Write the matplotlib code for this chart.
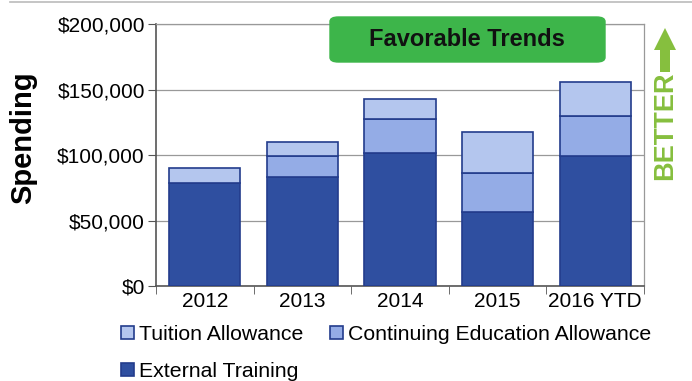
import matplotlib
matplotlib.use("Agg")
import matplotlib.pyplot as plt
import numpy as np
from matplotlib.patches import FancyBboxPatch, Polygon
from matplotlib.lines import Line2D
from matplotlib.ticker import FuncFormatter

plt.rcParams['font.family'] = ['Liberation Sans', 'DejaVu Sans']

years = ["2012", "2013", "2014", "2015", "2016 YTD"]
external = [79000, 83000, 101500, 56500, 99500]
continuing = [0, 16500, 26000, 29500, 30500]
tuition = [11000, 10500, 15000, 31500, 26000]

c_ext = "#2F4FA0"
c_ce = "#94ACE6"
c_tu = "#B4C6EE"
edge = "#233C8C"

fig = plt.figure(figsize=(6.92, 3.81), dpi=100)
ax = fig.add_axes([0.2254, 0.2493, 0.7052, 0.6877])

x = np.arange(len(years))
w = 0.73
ext_b = np.array(external)
ce_b = np.array(continuing)
tu_b = np.array(tuition)
b1 = ax.bar(x, ext_b, w, color=c_ext, edgecolor=edge, linewidth=1.2, zorder=3, label="External Training")
b2 = ax.bar(x, ce_b, w, bottom=ext_b, color=c_ce, edgecolor=edge, linewidth=1.2, zorder=3,
            label="Continuing Education Allowance")
b3 = ax.bar(x, tu_b, w, bottom=ext_b + ce_b, color=c_tu, edgecolor=edge, linewidth=1.2, zorder=3,
            label="Tuition Allowance")

ax.set_xlim(-0.5, len(years) - 0.5)
ax.set_ylim(0, 200000)
ax.set_yticks([0, 50000, 100000, 150000, 200000])
ax.yaxis.set_major_formatter(FuncFormatter(lambda v, p: "${:,.0f}".format(v)))
ax.set_xticks(x)
ax.set_xticklabels(years)
ax.set_xticks(np.arange(-0.5, len(years)), minor=True)
ax.tick_params(axis='x', which='major', length=0, labelsize=15, pad=4)
ax.tick_params(axis='x', which='minor', length=6, color="#555555", direction='out')
ax.tick_params(axis='y', length=6, color="#555555", labelsize=15, pad=2)
ax.grid(axis='y', color="#999999", linewidth=0.9, zorder=0)
for s in ['left', 'bottom']:
    ax.spines[s].set_color("#555555")
    ax.spines[s].set_linewidth(1.2)
for s in ['right', 'top']:
    ax.spines[s].set_color("#999999")
    ax.spines[s].set_linewidth(0.9)

fig.text(23 / 692, 1 - 138 / 381, "Spending", rotation=90, fontsize=21, fontweight='bold',
         ha='center', va='center')

# Favorable Trends box
box = FancyBboxPatch((330 / 692, 1 - 62 / 381), 275 / 692, 45 / 381,
                     boxstyle="round,pad=0,rounding_size=0.012",
                     transform=fig.transFigure, facecolor="#3DB54A", edgecolor="#3DB54A", zorder=5)
fig.patches.append(box)
fig.text(467 / 692, 1 - 40 / 381, "Favorable Trends", fontsize=17, fontweight='bold',
         ha='center', va='center', color="#111111", zorder=6)

# BETTER arrow
gx = 665
def fp(px, py):
    return (px / 692, 1 - py / 381)
arrow = Polygon([fp(gx, 28), fp(gx + 11, 50), fp(gx + 5, 50), fp(gx + 5, 72),
                 fp(gx - 5, 72), fp(gx - 5, 50), fp(gx - 11, 50)],
                closed=True, transform=fig.transFigure, facecolor="#86BF3E", edgecolor="none")
fig.patches.append(arrow)
fig.text(gx / 692, 1 - 126 / 381, "BETTER", rotation=90, fontsize=19.5, fontweight='bold',
         color="#86BF3E", ha='center', va='center')

# top border line
fig.add_artist(Line2D([10 / 692, 1], [1 - 1.5 / 381, 1 - 1.5 / 381], transform=fig.transFigure,
                      color="#BBBBBB", linewidth=1.2))

leg = fig.legend([b3, b1, b2], ["Tuition Allowance", "External Training", "Continuing Education Allowance"],
                 ncol=2, loc='upper left', bbox_to_anchor=(121 / 692, 1 - 325 / 381),
                 frameon=False, fontsize=15.3, handlelength=0.6, handleheight=0.6,
                 handletextpad=0.25, columnspacing=1.25, borderaxespad=0, borderpad=0,
                 labelspacing=0.85)

fig.savefig("out.png", dpi=100)
